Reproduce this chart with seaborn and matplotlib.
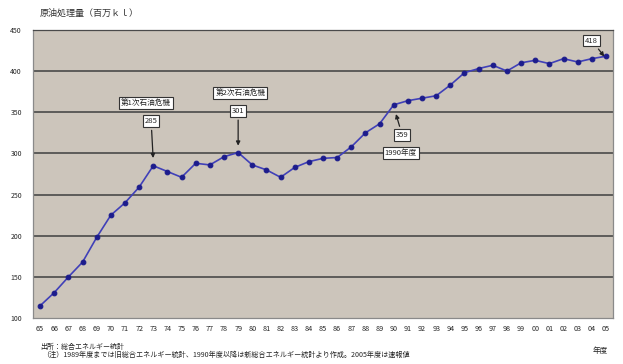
import matplotlib
matplotlib.use("Agg")
import matplotlib.pyplot as plt
import seaborn as sns
import pandas as pd

# Crude oil throughput, FY1965-FY2005 (million kl)
years = ["65", "66", "67", "68", "69", "70", "71", "72", "73", "74",
         "75", "76", "77", "78", "79", "80", "81", "82", "83", "84",
         "85", "86", "87", "88", "89", "90", "91", "92", "93", "94",
         "95", "96", "97", "98", "99", "00", "01", "02", "03", "04", "05"]
volume = [115, 131, 150, 168, 198, 225, 240, 259, 285, 278,
          271, 288, 286, 296, 301, 286, 280, 271, 283, 290,
          294, 295, 308, 325, 336, 359, 364, 367, 370, 383,
          398, 403, 407, 400, 410, 413, 409, 415, 411, 415, 418]
y_ticks = [100, 150, 200, 250, 300, 350, 400, 450]

sns.set_theme(style="white")
plt.rcParams["font.family"] = ["Noto Sans CJK JP", "DejaVu Sans"]

df = pd.DataFrame({"idx": range(len(years)), "year": years, "volume": volume})

fig = plt.figure(figsize=(6.23, 3.64), dpi=100)
ax = fig.add_axes([0.053, 0.126, 0.931, 0.792])
ax.set_facecolor("#ccc5bb")

sns.lineplot(data=df, x="idx", y="volume", ax=ax, color="#4040b8",
             linewidth=1.2, marker="o", markersize=3.4,
             markerfacecolor="#1c1c8c", markeredgecolor="#1c1c8c", zorder=3)

ax.set_xlim(-0.5, len(years) - 0.5)
ax.set_ylim(100, 450)
ax.set_yticks(y_ticks)
ax.set_yticklabels([str(t) for t in y_ticks], fontsize=5)
ax.set_xticks(range(len(years)))
ax.set_xticklabels(years, fontsize=5.2)
ax.set_xlabel("")
ax.set_ylabel("")
ax.tick_params(axis="x", direction="in", length=2, width=0.8, color="#222222", pad=5)
ax.tick_params(axis="y", length=0, pad=8)

for t in y_ticks[1:-1]:
    ax.axhline(t, color="#4a4a4a", linewidth=1.2, zorder=1)
for s in ax.spines.values():
    s.set_color("#8a8a8a")
    s.set_linewidth(0.9)
ax.spines["top"].set_color("#4a4a4a")

box = dict(boxstyle="square,pad=0.25", facecolor="white", edgecolor="#333333", linewidth=0.8)
arrow = dict(arrowstyle="-|>", color="#222222", linewidth=0.9, mutation_scale=6)

ax.text(7.5, 361, "第1次石油危機", fontsize=5.5, ha="center", va="center", bbox=box, zorder=5)
ax.annotate(str(volume[8]), xy=(8, 291), xytext=(7.85, 339), fontsize=5.5,
            ha="center", va="center", bbox=box, arrowprops=arrow, zorder=5)

ax.text(14.15, 373, "第2次石油危機", fontsize=5.5, ha="center", va="center", bbox=box, zorder=5)
ax.annotate(str(volume[14]), xy=(14, 306), xytext=(14.0, 351.5), fontsize=5.5,
            ha="center", va="center", bbox=box, arrowprops=arrow, zorder=5)

ax.annotate(str(volume[25]), xy=(25.1, 351), xytext=(25.6, 322), fontsize=5.5,
            ha="center", va="center", bbox=box, arrowprops=arrow, zorder=5)
ax.text(25.5, 300, "1990年度", fontsize=5.5, ha="center", va="center", bbox=box, zorder=5)

ax.annotate(str(volume[40]), xy=(40, 415), xytext=(39.0, 437), fontsize=5.5,
            ha="center", va="center", bbox=box, arrowprops=arrow, zorder=5)

fig.text(40 / 623, 1 - 13 / 364, "原油処理量（百万ｋｌ）", fontsize=6.5, ha="left", va="center",
         color="#333333")
fig.text(40 / 623, 1 - 347 / 364, "出所：総合エネルギー統計", fontsize=5, ha="left", va="center",
         color="#222222")
fig.text(42 / 623, 1 - 355 / 364,
         "（注）1989年度までは旧総合エネルギー統計、1990年度以降は新総合エネルギー統計より作成。2005年度は速報値",
         fontsize=5.1, ha="left", va="center", color="#222222")
fig.text(600 / 623, 1 - 351 / 364, "年度", fontsize=5.5, ha="center", va="center", color="#222222")

fig.savefig("out.png", dpi=100, facecolor="white")
